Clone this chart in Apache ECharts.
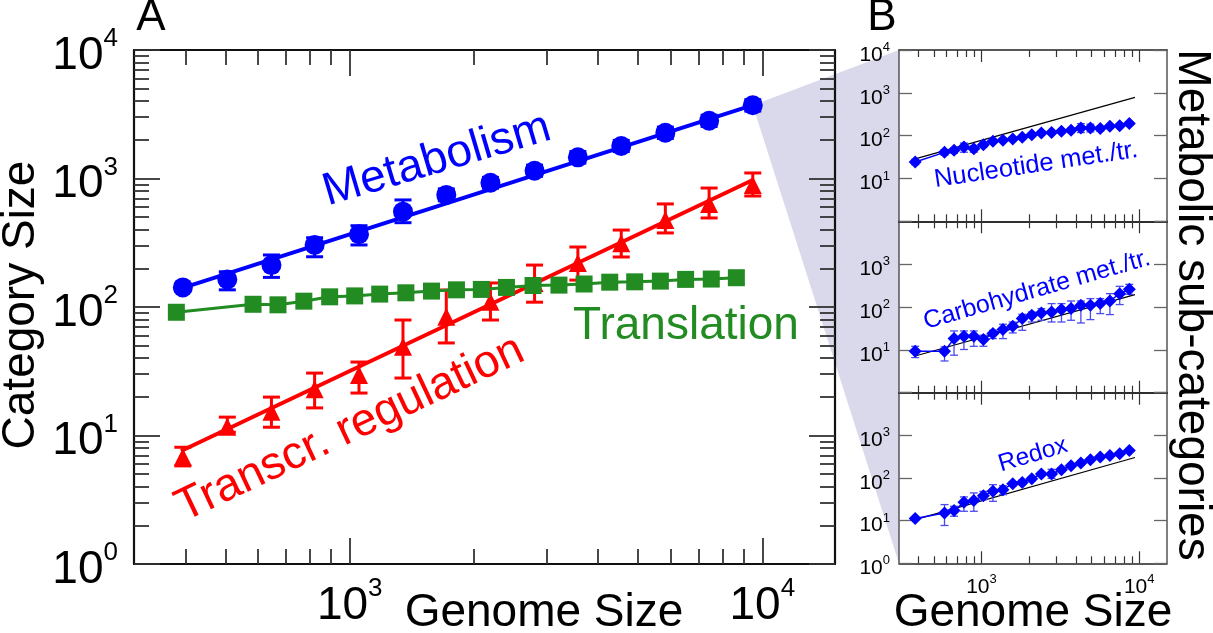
<!DOCTYPE html>
<html><head><meta charset="utf-8">
<script src="https://cdn.jsdelivr.net/npm/echarts@6/dist/echarts.min.js"></script>
<style>html,body{margin:0;padding:0;background:#fff}#c{width:1213px;height:633px}</style>
</head><body><div id="c"></div><script>
const FONT = "'Liberation Sans', Arial, Helvetica, sans-serif";

// ---------- Panel A data ----------
const genomeCoarse = [394, 505, 646, 822, 1053, 1346, 1714, 2193, 2805, 3572, 4550, 5820, 7430, 9480];
const metabolism     = [142, 164, 212, 304, 368, 552, 745, 927, 1150, 1462, 1791, 2270, 2813, 3715];
const metabolismLow  = [132, 136, 170, 246, 304, 453, 670, 840, 1040, 1320, 1620, 2050, 2540, 3350];
const metabolismHigh = [152, 188, 254, 346, 429, 681, 830, 1020, 1270, 1620, 1980, 2510, 3110, 4100];
const metabolismFitX = [394, 9480];
const metabolismFitY = [141, 3730];

const transcr     = [6.8, 11.7, 15.3, 22.9, 29.6, 49, 84, 110, 154, 220, 313, 476, 634, 890];
const transcrLow  = [5.8, 10.6, 11.6, 16.4, 21.4, 28.0, 52.5, 79.2, 109, 162, 245, 377, 493, 731];
const transcrHigh = [8.1, 13.9, 19.9, 30.6, 37.3, 79.2, 135.6, 153.8, 212, 293, 397, 634, 843, 1104];
const transcrFitX = [390, 9480];
const transcrFitY = [7.57, 973];

const genomeFine  = [380, 583, 670, 774, 894, 1028, 1182, 1368, 1578, 1814, 2084, 2398, 2782, 3214, 3698, 4267, 4905, 5660, 6517, 7520, 8650];
const translation = [91, 105, 104, 111, 120, 122, 126, 129, 133, 136, 137, 142, 147, 148, 151, 156, 157, 159, 164, 165, 169];

// ---------- Panel B data ----------
const nucleotide     = [24.3, 40.7, 45.4, 54.4, 49.7, 61.6, 73.6, 77.7, 83.8, 91.3, 105, 116, 119, 126, 133, 151, 151, 146, 165, 171, 191];
const nucleotideLow  = [21, 35, 39, 41, 41, 53, 66, 70, 76, 83, 96, 106, 108, 114, 118, 118, 122, 128, 148, 155, 174];
const nucleotideHigh = [28, 47, 52, 67, 58, 71, 82, 86, 92, 100, 115, 127, 131, 139, 149, 191, 185, 165, 183, 188, 209];
const nucleotideFitY = [28.6, 785];

const carbohydrate     = [9.3, 9.3, 18.3, 20.7, 20.7, 17.4, 24.0, 29.7, 35.5, 53.7, 64.1, 72.5, 76.4, 86.9, 91.8, 110, 110, 120, 138, 205, 259];
const carbohydrateLow  = [6.6, 5.5, 7.5, 10.2, 12.1, 12.1, 18.3, 18.3, 24.8, 28.6, 44.7, 49, 44.7, 44.7, 49, 42.4, 50.8, 70.2, 66.5, 114, 198];
const carbohydrateHigh = [12.1, 11.7, 27.6, 27.6, 27.6, 21.9, 28.6, 39.6, 44.7, 67.6, 76.4, 91.8, 120, 120, 138, 138, 157, 157, 205, 304, 338];
const carbohydrateFitY = [7.2, 194];

const redox     = [11.2, 15.2, 17.2, 26.9, 29.5, 38.6, 48.6, 53.3, 73.6, 78.9, 96.3, 124, 124, 156, 194, 224, 268, 310, 338, 370, 442];
const redoxLow  = [10.2, 7.7, 12.7, 16.6, 16.6, 31.1, 28.4, 40.7, 66, 70, 86, 112, 98, 140, 176, 204, 244, 282, 308, 338, 404];
const redoxHigh = [12.3, 23.8, 21.7, 36, 44.7, 48.6, 69.6, 66, 82, 89, 108, 138, 160, 174, 214, 246, 294, 340, 370, 405, 484];
const redoxFitY = [10.6, 303];

const subFitX = [380, 9400];

// ---------- ticks ----------
const xRange = [300, 15000];
const yRange = [1, 10000];
const xMajorTicks = [1000, 10000];
const xMinorTicks = [400, 500, 600, 700, 800, 900, 2000, 3000, 4000, 5000, 6000, 7000, 8000, 9000];
const yMajorTicks = [1, 10, 100, 1000, 10000];
const yMinorTicks = [2,3,4,5,6,7,8,9,20,30,40,50,60,70,80,90,200,300,400,500,600,700,800,900,2000,3000,4000,5000,6000,7000,8000,9000];
const tickExponents = {1: '0', 10: '1', 100: '2', 1000: '3', 10000: '4'};
const yLabelsB = [[10, 100, 1000, 10000], [10, 100, 1000], [1, 10, 100, 1000]];

const chart = echarts.init(document.getElementById('c'), null, {renderer: 'canvas'});

function powLabel(big, small, lh) {
  return {
    formatter: v => '{b|10}{s|' + tickExponents[Math.round(v)] + '}',
    rich: {
      b: {fontSize: big, fontFamily: FONT, color: '#000', lineHeight: lh},
      s: {fontSize: small, fontFamily: FONT, color: '#000', verticalAlign: 'top', lineHeight: small}
    }
  };
}

function ax(o) {
  return Object.assign({
    type: 'log', logBase: 10,
    splitLine: {show: false}, minorTick: {show: false}, minorSplitLine: {show: false},
    axisPointer: {show: false}, silent: true
  }, o);
}

const grids = [
  {left: 134, top: 50, width: 701, height: 514},
  {left: 899, top: 50, width: 268, height: 171.3},
  {left: 899, top: 221.3, width: 268, height: 171.4},
  {left: 899, top: 392.7, width: 268, height: 170.6}
];

const xAxes = [], yAxes = [];
const gridX = [], gridY = [];

// Panel A axes
(function () {
  const lineA = {show: true, lineStyle: {color: '#111', width: 2.2}};
  const tickCol = '#333';
  gridX[0] = xAxes.length;
  xAxes.push(ax({gridIndex: 0, position: 'bottom', min: xRange[0], max: xRange[1], axisLine: lineA,
    axisTick: {show: true, inside: true, length: 26, customValues: xMajorTicks, lineStyle: {color: tickCol, width: 1.8}},
    axisLabel: Object.assign({show: true, customValues: xMajorTicks, margin: 12}, powLabel(46, 26, 60))}));
  xAxes.push(ax({gridIndex: 0, position: 'top', min: xRange[0], max: xRange[1], axisLine: lineA,
    axisTick: {show: true, inside: true, length: 26, customValues: xMajorTicks, lineStyle: {color: tickCol, width: 1.8}},
    axisLabel: {show: false}}));
  xAxes.push(ax({gridIndex: 0, position: 'bottom', min: xRange[0], max: xRange[1], axisLine: {show: false},
    axisTick: {show: true, inside: true, length: 15, customValues: xMinorTicks, lineStyle: {color: tickCol, width: 1.8}},
    axisLabel: {show: false}}));
  xAxes.push(ax({gridIndex: 0, position: 'top', min: xRange[0], max: xRange[1], axisLine: {show: false},
    axisTick: {show: true, inside: true, length: 15, customValues: xMinorTicks, lineStyle: {color: tickCol, width: 1.8}},
    axisLabel: {show: false}}));
  gridY[0] = yAxes.length;
  yAxes.push(ax({gridIndex: 0, position: 'left', min: yRange[0], max: yRange[1], axisLine: lineA,
    axisTick: {show: true, inside: true, length: 26, customValues: yMajorTicks, lineStyle: {color: tickCol, width: 1.8}},
    axisLabel: Object.assign({show: true, customValues: yMajorTicks, margin: 16, padding: [12, 0, 0, 0]}, powLabel(46, 26, 60))}));
  yAxes.push(ax({gridIndex: 0, position: 'right', min: yRange[0], max: yRange[1], axisLine: lineA,
    axisTick: {show: true, inside: true, length: 26, customValues: yMajorTicks, lineStyle: {color: tickCol, width: 1.8}},
    axisLabel: {show: false}}));
  yAxes.push(ax({gridIndex: 0, position: 'left', min: yRange[0], max: yRange[1], axisLine: {show: false},
    axisTick: {show: true, inside: true, length: 15, customValues: yMinorTicks, lineStyle: {color: tickCol, width: 1.8}},
    axisLabel: {show: false}}));
  yAxes.push(ax({gridIndex: 0, position: 'right', min: yRange[0], max: yRange[1], axisLine: {show: false},
    axisTick: {show: true, inside: true, length: 15, customValues: yMinorTicks, lineStyle: {color: tickCol, width: 1.8}},
    axisLabel: {show: false}}));
})();

// Panel B axes
for (let k = 1; k <= 3; k++) {
  const lineB = {show: true, lineStyle: {color: '#222', width: 1.5}};
  const tc = '#333';
  gridX[k] = xAxes.length;
  xAxes.push(ax({gridIndex: k, position: 'bottom', min: xRange[0], max: xRange[1], axisLine: lineB,
    axisTick: {show: true, inside: true, length: 12, customValues: xMajorTicks, lineStyle: {color: tc, width: 1.2}},
    axisLabel: k === 3 ? Object.assign({show: true, customValues: xMajorTicks, margin: 10}, powLabel(21, 13, 28)) : {show: false}}));
  xAxes.push(ax({gridIndex: k, position: 'top', min: xRange[0], max: xRange[1], axisLine: lineB,
    axisTick: {show: true, inside: true, length: 12, customValues: xMajorTicks, lineStyle: {color: tc, width: 1.2}},
    axisLabel: {show: false}}));
  xAxes.push(ax({gridIndex: k, position: 'bottom', min: xRange[0], max: xRange[1], axisLine: {show: false},
    axisTick: {show: true, inside: true, length: 7, customValues: xMinorTicks, lineStyle: {color: tc, width: 1.2}},
    axisLabel: {show: false}}));
  xAxes.push(ax({gridIndex: k, position: 'top', min: xRange[0], max: xRange[1], axisLine: {show: false},
    axisTick: {show: true, inside: true, length: 7, customValues: xMinorTicks, lineStyle: {color: tc, width: 1.2}},
    axisLabel: {show: false}}));
  gridY[k] = yAxes.length;
  yAxes.push(ax({gridIndex: k, position: 'left', min: yRange[0], max: yRange[1], axisLine: {show: true, lineStyle: {color: '#555', width: 1.5}},
    axisTick: {show: true, inside: true, length: 13, customValues: yMajorTicks, lineStyle: {color: '#666', width: 1.3}},
    axisLabel: Object.assign({show: true, customValues: yLabelsB[k - 1], margin: 9, padding: [10, 0, 0, 0]}, powLabel(21, 13, 28))}));
  yAxes.push(ax({gridIndex: k, position: 'right', min: yRange[0], max: yRange[1], axisLine: {show: true, lineStyle: {color: '#555', width: 1.5}},
    axisTick: {show: true, inside: true, length: 13, customValues: yMajorTicks, lineStyle: {color: '#666', width: 1.3}},
    axisLabel: {show: false}}));
}

function errorSeries(k, xs, lo, hi, color, lw, cap, z) {
  return {
    type: 'custom', xAxisIndex: gridX[k], yAxisIndex: gridY[k], z: z, silent: true,
    data: xs.map((x, i) => [x, lo[i], hi[i]]),
    encode: {x: 0, y: [1, 2]},
    renderItem: function (params, api) {
      const a = api.coord([api.value(0), api.value(1)]);
      const b = api.coord([api.value(0), api.value(2)]);
      const st = {stroke: color, lineWidth: lw};
      return {type: 'group', children: [
        {type: 'line', shape: {x1: a[0], y1: a[1], x2: b[0], y2: b[1]}, style: st},
        {type: 'line', shape: {x1: a[0] - cap / 2, y1: a[1], x2: a[0] + cap / 2, y2: a[1]}, style: st},
        {type: 'line', shape: {x1: b[0] - cap / 2, y1: b[1], x2: b[0] + cap / 2, y2: b[1]}, style: st}
      ]};
    }
  };
}
function pairs(xs, ys) { return xs.map((x, i) => [x, ys[i]]); }

const BLUE = '#0000ff', RED = '#ff0000', GREEN = '#228b22';
const series = [];
// Transcr. regulation
series.push({type: 'line', xAxisIndex: gridX[0], yAxisIndex: gridY[0], z: 2, data: pairs(transcrFitX, transcrFitY),
  showSymbol: false, lineStyle: {color: RED, width: 4}, silent: true});
series.push(errorSeries(0, genomeCoarse, transcrLow, transcrHigh, RED, 3, 17, 2));
series.push({type: 'scatter', xAxisIndex: gridX[0], yAxisIndex: gridY[0], z: 2, data: pairs(genomeCoarse, transcr),
  symbol: 'triangle', symbolSize: 18, itemStyle: {color: RED, opacity: 1}, silent: true});
// Translation
series.push({type: 'line', xAxisIndex: gridX[0], yAxisIndex: gridY[0], z: 3, data: pairs(genomeFine, translation),
  symbol: 'rect', symbolSize: 17, showAllSymbol: true, lineStyle: {color: GREEN, width: 3}, itemStyle: {color: GREEN, opacity: 1}, silent: true});
// Metabolism
series.push({type: 'line', xAxisIndex: gridX[0], yAxisIndex: gridY[0], z: 4, data: pairs(metabolismFitX, metabolismFitY),
  showSymbol: false, lineStyle: {color: BLUE, width: 4}, silent: true});
series.push(errorSeries(0, genomeCoarse, metabolismLow, metabolismHigh, BLUE, 3, 17, 4));
series.push({type: 'scatter', xAxisIndex: gridX[0], yAxisIndex: gridY[0], z: 4, data: pairs(genomeCoarse, metabolism),
  symbol: 'circle', symbolSize: 20, itemStyle: {color: BLUE, opacity: 1}, silent: true});

// Panel B
const subs = [
  [nucleotide, nucleotideLow, nucleotideHigh, nucleotideFitY],
  [carbohydrate, carbohydrateLow, carbohydrateHigh, carbohydrateFitY],
  [redox, redoxLow, redoxHigh, redoxFitY]
];
subs.forEach((s, j) => {
  const k = j + 1;
  series.push({type: 'line', xAxisIndex: gridX[k], yAxisIndex: gridY[k], z: 2, data: pairs(subFitX, s[3]),
    showSymbol: false, lineStyle: {color: '#000', width: 1.2}, silent: true});
  series.push(errorSeries(k, genomeFine, s[1], s[2], '#4a4af0', 1.3, 8, 3));
  series.push({type: 'line', xAxisIndex: gridX[k], yAxisIndex: gridY[k], z: 4, data: pairs(genomeFine, s[0]),
    symbol: 'diamond', symbolSize: 13, showAllSymbol: true, lineStyle: {color: BLUE, width: 1.5}, itemStyle: {color: BLUE, opacity: 1}, silent: true});
});

function txt(id, text, x, y, size, color, rot) {
  return {type: 'text', id: id, x: x, y: y, rotation: rot || 0, silent: true, z: 50,
    style: {text: text, fontSize: size, fontFamily: FONT, fill: color, textAlign: 'center', textVerticalAlign: 'middle', verticalAlign: 'middle'}};
}
const graphics = [
  txt('tA', 'A', 151, 18, 44, '#000'),
  txt('tB', 'B', 882, 18, 44, '#000'),
  txt('yName', 'Category Size', 21, 305, 46, '#000', Math.PI / 2),
  txt('xNameA', 'Genome Size', 544, 613, 46, '#000'),
  txt('xNameB', 'Genome Size', 1033, 613, 46, '#000'),
  txt('bName', 'Metabolic sub-categories', 1192, 305, 46, '#000', -Math.PI / 2),
  txt('lMet', 'Metabolism', 437, 160, 46, BLUE, 0.288),
  txt('lTr', 'Transcr. regulation', 350, 429, 46, RED, 0.443),
  txt('lTl', 'Translation', 686, 326, 46, GREEN),
  txt('lNuc', 'Nucleotide met./tr.', 1036, 165, 25.5, BLUE, 0.148),
  txt('lCarb', 'Carbohydrate met./tr.', 1037, 290, 25, BLUE, 0.279),
  txt('lRed', 'Redox', 1033, 455, 24.5, BLUE, 0.29)
];

const option = {
  animation: false,
  backgroundColor: '#fff',
  grid: grids,
  xAxis: xAxes,
  yAxis: yAxes,
  series: series,
  graphic: graphics
};
chart.setOption(option);

// connector shading between panels
const last = genomeCoarse.length - 1;
const p0 = chart.convertToPixel({xAxisIndex: gridX[0], yAxisIndex: gridY[0]}, [genomeCoarse[last], metabolism[last]]);
const p1 = chart.convertToPixel({xAxisIndex: gridX[1], yAxisIndex: gridY[1]}, [xRange[0], yRange[1]]);
const p2 = chart.convertToPixel({xAxisIndex: gridX[3], yAxisIndex: gridY[3]}, [xRange[0], yRange[0]]);
option.graphic = graphics.concat([{type: 'polygon', id: 'shade', silent: true, z: -10,
  shape: {points: [p0, p1, p2]}, style: {fill: '#d9d9eb'}}]);
chart.setOption(option, true);
</script></body></html>
